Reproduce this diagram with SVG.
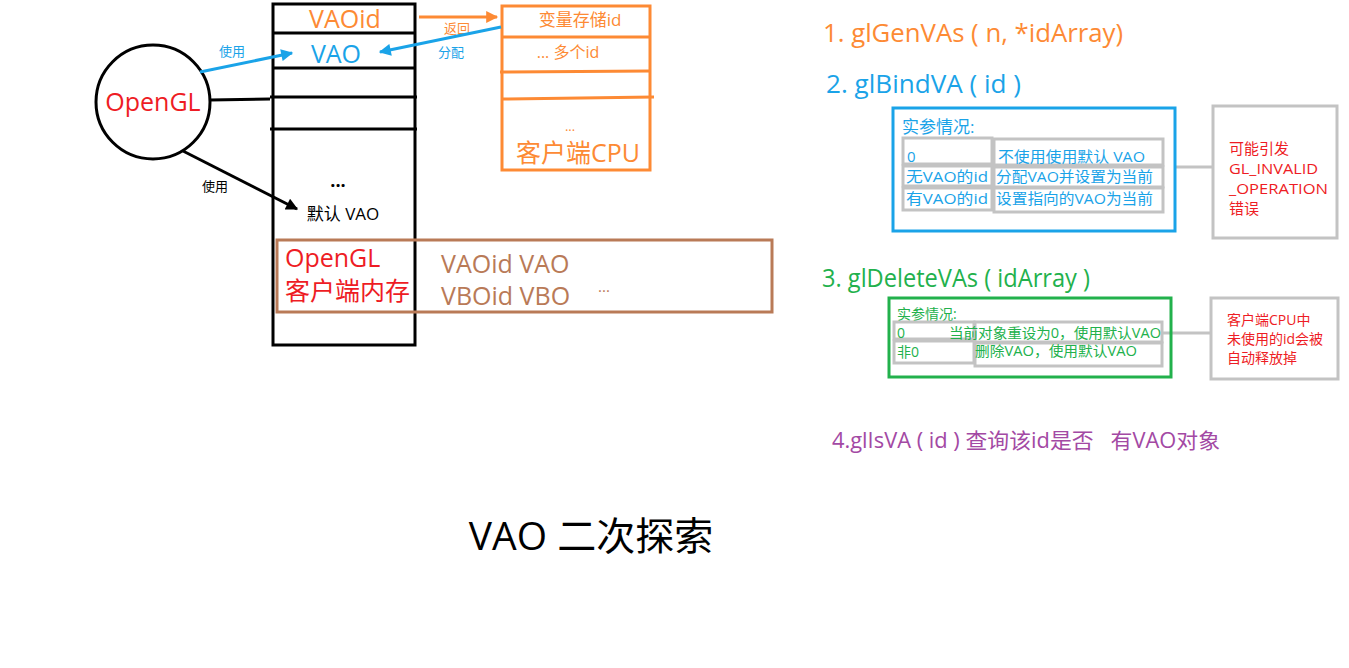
<svg xmlns="http://www.w3.org/2000/svg" width="1349" height="668" viewBox="0 0 1349 668">
<defs>
<style>
text{font-family:"Open Sans","Noto Sans CJK SC","Microsoft YaHei",sans-serif}
.k{stroke:#000;stroke-width:3;fill:none}
.o{stroke:#fd8a34;stroke-width:3;fill:none}
.b{stroke:#1aa3e8;stroke-width:3;fill:none}
.g{stroke:#c3c3c3;stroke-width:3;fill:none}
.tor{fill:#fd8a34}.tb{fill:#1aa3e8}.tr{fill:#ee1c24}.tg{fill:#22b14c}.tp{fill:#a349a4}.tbr{fill:#b97a57}
</style>
<marker id="ab" viewBox="0 0 10 10" refX="9" refY="5" markerWidth="14" markerHeight="12" orient="auto" markerUnits="userSpaceOnUse"><path d="M0,0L10,5L0,10z" fill="#1aa3e8"/></marker>
<marker id="ao" viewBox="0 0 10 10" refX="9" refY="5" markerWidth="16" markerHeight="12" orient="auto" markerUnits="userSpaceOnUse"><path d="M0,0L10,5L0,10z" fill="#fd8a34"/></marker>
<marker id="ak2" viewBox="0 0 10 10" refX="9" refY="5" markerWidth="15" markerHeight="12" orient="auto" markerUnits="userSpaceOnUse"><path d="M0,0L10,5L0,10z" fill="#000"/></marker>
</defs>
<rect width="1349" height="668" fill="#fff"/>

<g id="memory-column">
<rect x="273" y="4" width="142" height="341" class="k"/>
<line x1="273" y1="33" x2="415" y2="33" class="k"/>
<line x1="273" y1="68" x2="415" y2="68" class="k"/>
<line x1="270" y1="97" x2="417" y2="97" class="k"/>
<line x1="270" y1="129" x2="417" y2="129" class="k"/>
<text x="345" y="28" font-size="25" text-anchor="middle" class="tor">VAOid</text>
<text x="336" y="63" font-size="25" text-anchor="middle" class="tb">VAO</text>
<text x="338" y="192" font-size="18" text-anchor="middle" font-weight="bold">···</text>
<text x="343" y="220" font-size="17" text-anchor="middle">默认 VAO</text>
</g>

<g id="opengl">
<circle cx="153" cy="102" r="57" fill="#fff" stroke="#000" stroke-width="3"/>
<text x="153" y="111" font-size="25" text-anchor="middle" class="tr">OpenGL</text>
</g>

<g id="client-cpu">
<rect x="502" y="6" width="148" height="164" class="o"/>
<line x1="502" y1="37" x2="650" y2="37" class="o"/>
<line x1="500" y1="72" x2="650" y2="71" class="o"/>
<line x1="502" y1="99" x2="654" y2="97" class="o"/>
<text x="580" y="26" font-size="17" text-anchor="middle" class="tor">变量存储id</text>
<text x="568" y="58" font-size="16" text-anchor="middle" class="tor">... 多个id</text>
<text x="570" y="131" font-size="13" text-anchor="middle" class="tor">...</text>
<text x="578" y="162" font-size="25" text-anchor="middle" class="tor">客户端CPU</text>
</g>

<g id="client-memory">
<rect x="277" y="240" width="495" height="72" fill="none" stroke="#b97a57" stroke-width="3"/>
<text x="285" y="267" font-size="25" class="tr">OpenGL</text>
<text x="285" y="300" font-size="25" class="tr">客户端内存</text>
<text x="441" y="273" font-size="25" class="tbr">VAOid VAO</text>
<text x="441" y="305" font-size="25" class="tbr">VBOid VBO</text>
<text x="598" y="292" font-size="15" class="tbr">...</text>
</g>

<g id="connectors">
<line x1="200" y1="72" x2="292" y2="53" class="b" marker-end="url(#ab)"/>
<text x="232" y="56" font-size="13" text-anchor="middle" class="tb">使用</text>
<line x1="210" y1="100" x2="270" y2="99" class="k"/>
<line x1="183" y1="151" x2="297" y2="209" class="k" marker-end="url(#ak2)"/>
<text x="215" y="191" font-size="13" text-anchor="middle">使用</text>
<line x1="419" y1="17" x2="497" y2="17" class="o" marker-end="url(#ao)"/>
<text x="457" y="33" font-size="13" text-anchor="middle" class="tor">返回</text>
<line x1="501" y1="27" x2="380" y2="52" class="b" marker-end="url(#ab)"/>
<text x="451" y="57" font-size="13" text-anchor="middle" class="tb">分配</text>
<line x1="1175" y1="167" x2="1213" y2="167" class="g"/>
<line x1="1162" y1="333" x2="1211" y2="333" class="g"/>
</g>

<g id="title1"><text x="823" y="42" font-size="25" textLength="300" lengthAdjust="spacingAndGlyphs" class="tor">1. glGenVAs ( n, *idArray)</text></g>
<g id="title2"><text x="826" y="93" font-size="25" textLength="195" lengthAdjust="spacingAndGlyphs" class="tb">2. glBindVA ( id )</text></g>

<g id="bind-box">
<rect x="893" y="108" width="282" height="123" class="b"/>
<text x="902" y="133" font-size="17" class="tb">实参情况:</text>
<rect x="903" y="138" width="89" height="26" class="g"/>
<rect x="903" y="166" width="89" height="20" class="g"/>
<rect x="903" y="188" width="89" height="22" class="g"/>
<rect x="994" y="139" width="169" height="26" class="g"/>
<rect x="994" y="167" width="169" height="20" class="g"/>
<rect x="994" y="188" width="169" height="24" class="g"/>
<text x="907" y="162" font-size="15" class="tb">0</text>
<text x="998" y="162" font-size="15" textLength="147" lengthAdjust="spacingAndGlyphs" class="tb">不使用使用默认 VAO</text>
<text x="906" y="182" font-size="15" textLength="82" lengthAdjust="spacingAndGlyphs" class="tb">无VAO的id</text>
<text x="996" y="182" font-size="15" textLength="157" lengthAdjust="spacingAndGlyphs" class="tb">分配VAO并设置为当前</text>
<text x="906" y="204" font-size="15" textLength="82" lengthAdjust="spacingAndGlyphs" class="tb">有VAO的id</text>
<text x="996" y="204" font-size="15" textLength="157" lengthAdjust="spacingAndGlyphs" class="tb">设置指向的VAO为当前</text>
</g>

<g id="bind-error">
<rect x="1213" y="106" width="124" height="132" class="g"/>
<text x="1229" y="154" font-size="15" class="tr">可能引发</text>
<text x="1229" y="174" font-size="14.5" textLength="89" lengthAdjust="spacingAndGlyphs" class="tr">GL_INVALID</text>
<text x="1229" y="194" font-size="14.5" textLength="99" lengthAdjust="spacingAndGlyphs" class="tr">_OPERATION</text>
<text x="1229" y="214" font-size="15" class="tr">错误</text>
</g>

<g id="title3"><text x="822" y="287" font-size="25" textLength="268" lengthAdjust="spacingAndGlyphs" class="tg">3. glDeleteVAs ( idArray )</text></g>

<g id="delete-box">
<rect x="889" y="298" width="282" height="79" fill="none" stroke="#22b14c" stroke-width="3"/>
<text x="897" y="319" font-size="14" class="tg">实参情况:</text>
<rect x="894" y="322" width="80" height="17" class="g"/>
<rect x="894" y="341" width="80" height="22" class="g"/>
<rect x="975" y="322" width="187" height="20" class="g"/>
<rect x="975" y="343" width="187" height="23" class="g"/>
<text x="897" y="338" font-size="14" class="tg">0</text>
<text x="949" y="338" font-size="14" textLength="212" lengthAdjust="spacingAndGlyphs" class="tg">当前对象重设为0，使用默认VAO</text>
<text x="897" y="357" font-size="14" class="tg">非0</text>
<text x="975" y="356" font-size="14" textLength="162" lengthAdjust="spacingAndGlyphs" class="tg">删除VAO，使用默认VAO</text>
</g>

<g id="delete-note">
<rect x="1211" y="298" width="127" height="81" class="g"/>
<text x="1227" y="325" font-size="14" class="tr">客户端CPU中</text>
<text x="1227" y="344" font-size="14" class="tr">未使用的id会被</text>
<text x="1227" y="363" font-size="14" class="tr">自动释放掉</text>
</g>

<g id="title4"><text x="832" y="448" font-size="21" textLength="388" lengthAdjust="spacingAndGlyphs" class="tp" xml:space="preserve">4.glIsVA ( id ) 查询该id是否   有VAO对象</text></g>

<g id="main-title"><text x="591" y="550" font-size="39" text-anchor="middle">VAO 二次探索</text></g>
</svg>
